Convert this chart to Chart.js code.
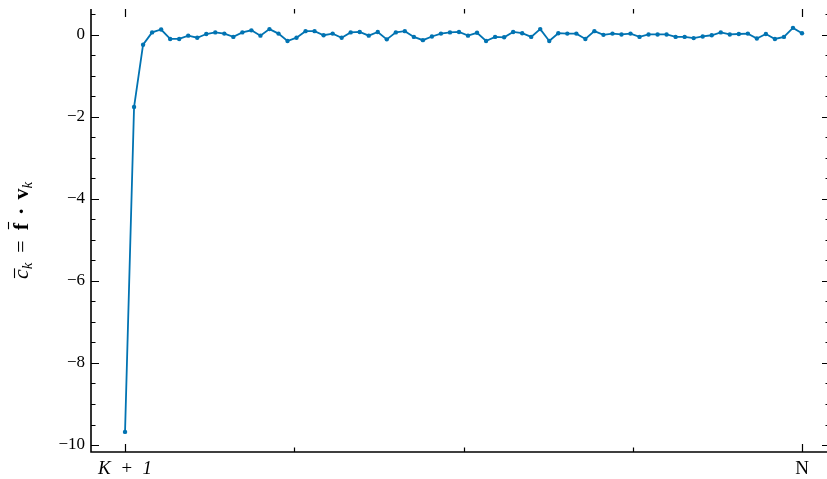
<!DOCTYPE html>
<html>
<head>
<meta charset="utf-8">
<script src="https://cdn.jsdelivr.net/npm/chart.js@4/dist/chart.umd.min.js"></script>
<style>
  html, body { margin: 0; padding: 0; background: #fff; }
</style>
</head>
<body>
<canvas id="chart" width="827" height="479"></canvas>
<script>
// step index, K+1 ... N
const steps = Array.from({ length: 76 }, (_, i) => i);
// projected coefficients c_k
const coefficients = [
  -9.68, -1.76, -0.24, 0.06, 0.13, -0.10, -0.10, -0.02, -0.07, 0.02,
  0.06, 0.03, -0.05, 0.06, 0.11, -0.02, 0.14, 0.03, -0.15, -0.07,
  0.09, 0.09, -0.01, 0.03, -0.07, 0.06, 0.07, -0.02, 0.07, -0.11,
  0.06, 0.09, -0.05, -0.13, -0.04, 0.03, 0.06, 0.07, -0.02, 0.05,
  -0.15, -0.05, -0.06, 0.07, 0.04, -0.05, 0.14, -0.15, 0.04, 0.03,
  0.03, -0.10, 0.09, 0.00, 0.03, 0.01, 0.03, -0.05, 0.01, 0.01,
  0.01, -0.05, -0.05, -0.08, -0.04, -0.01, 0.06, 0.01, 0.02, 0.03,
  -0.09, 0.02, -0.10, -0.05, 0.17, 0.04
];
const xTickValues = [0, 18.75, 37.5, 56.25, 75];
const xTickLabels = ['K\u2002+\u20021', '', '', '', 'N'];
const yTickValues = [-10, -8, -6, -4, -2, 0];

const SERIF = '"Liberation Serif", "DejaVu Serif", serif';
const LINE_BLUE = '#0173b2';

// matplotlib-like inward ticks and the two visible spines
const inwardTicks = {
  id: 'inwardTicks',
  afterDraw(chart) {
    const { ctx, chartArea: a, scales: { x, y } } = chart;
    const rightSpine = a.right + 3;
    ctx.save();
    ctx.strokeStyle = '#000';
    ctx.lineCap = 'butt';

    ctx.lineWidth = 1.2;
    ctx.beginPath();
    for (let v = -10; v <= 0.5; v += 0.5) {
      const py = Math.round(y.getPixelForValue(v)) + 0.5;
      const len = (v % 2 === 0) ? 8 : 4.5;
      ctx.moveTo(a.left, py); ctx.lineTo(a.left + len, py);
      ctx.moveTo(rightSpine, py); ctx.lineTo(rightSpine - len, py);
    }
    xTickValues.forEach((v, i) => {
      const px = Math.round(x.getPixelForValue(v)) + 0.5;
      const len = xTickLabels[i] ? 8 : 4.5;
      ctx.moveTo(px, a.bottom); ctx.lineTo(px, a.bottom - len);
      ctx.moveTo(px, a.top); ctx.lineTo(px, a.top + len);
    });
    ctx.stroke();

    ctx.lineWidth = 1.6;
    ctx.beginPath();
    ctx.moveTo(a.left, a.top);
    ctx.lineTo(a.left, a.bottom);
    ctx.lineTo(a.right, a.bottom);
    ctx.stroke();
    ctx.restore();
  }
};

// y title: c̄_k = f̄ · v_k
const yTitle = {
  id: 'yTitle',
  afterDraw(chart) {
    const { ctx, chartArea: a } = chart;
    const parts = [
      { t: 'c', font: 'italic 22px ' + SERIF, bar: 11 },
      { t: 'k', font: 'italic 15px ' + SERIF, sub: true },
      { gap: 10 },
      { t: '=', font: '22px ' + SERIF },
      { gap: 10 },
      { t: 'f', font: 'bold 22px ' + SERIF, bar: 17 },
      { gap: 8 },
      { t: '\u00b7', font: 'bold 22px ' + SERIF },
      { gap: 8 },
      { t: 'v', font: 'bold 22px ' + SERIF },
      { t: 'k', font: 'italic 15px ' + SERIF, sub: true }
    ];
    ctx.save();
    let total = 0;
    parts.forEach(p => {
      if (p.gap) { p.w = p.gap; } else { ctx.font = p.font; p.w = ctx.measureText(p.t).width; }
      total += p.w;
    });
    ctx.translate(21, (a.top + a.bottom) / 2);
    ctx.rotate(-Math.PI / 2);
    ctx.fillStyle = '#000';
    ctx.strokeStyle = '#000';
    ctx.textBaseline = 'alphabetic';
    let cx = -total / 2;
    const base = 7;
    parts.forEach(p => {
      if (!p.gap) {
        ctx.font = p.font;
        ctx.fillText(p.t, cx, p.sub ? base + 4 : base);
        if (p.bar) {
          ctx.lineWidth = 1.1;
          ctx.beginPath();
          ctx.moveTo(cx + 1, base - p.bar - 2.5);
          ctx.lineTo(cx + p.w + 1, base - p.bar - 2.5);
          ctx.stroke();
        }
      }
      cx += p.w;
    });
    ctx.restore();
  }
};

new Chart(document.getElementById('chart'), {
  type: 'line',
  data: {
    datasets: [{
      data: steps.map((s, i) => ({ x: s, y: coefficients[i] })),
      borderColor: LINE_BLUE,
      backgroundColor: LINE_BLUE,
      borderWidth: 1.8,
      pointRadius: 2.2,
      pointBorderWidth: 0,
      pointBackgroundColor: LINE_BLUE,
      tension: 0,
      clip: false
    }]
  },
  options: {
    responsive: false,
    devicePixelRatio: 1,
    animation: false,
    layout: { autoPadding: false, padding: { top: 9, left: 0, right: 0, bottom: 0 } },
    plugins: { legend: { display: false }, tooltip: { enabled: false } },
    scales: {
      x: {
        type: 'linear',
        min: -3.77,
        max: 77.77,
        grid: { display: false, drawTicks: false },
        border: { display: false },
        afterBuildTicks: s => { s.ticks = xTickValues.map(v => ({ value: v })); },
        afterFit: s => { s.height = 27; s.paddingLeft = 0; s.paddingRight = 0; },
        ticks: {
          autoSkip: false,
          maxRotation: 0,
          padding: 6,
          color: '#000',
          font: ctx => ({ family: SERIF, size: 19, style: ctx.index === 0 ? 'italic' : 'normal' }),
          callback: (v, i) => xTickLabels[i]
        }
      },
      y: {
        min: -10.17,
        max: 0.63,
        grid: { display: false, drawTicks: false },
        border: { display: false },
        afterBuildTicks: s => { s.ticks = yTickValues.map(v => ({ value: v })); },
        afterFit: s => { s.width = 91; s.paddingTop = 0; s.paddingBottom = 0; },
        ticks: {
          padding: 6,
          color: '#000',
          font: { family: SERIF, size: 17 },
          callback: v => String(v).replace('-', '\u2212')
        }
      }
    }
  },
  plugins: [inwardTicks, yTitle]
});
</script>
</body>
</html>
